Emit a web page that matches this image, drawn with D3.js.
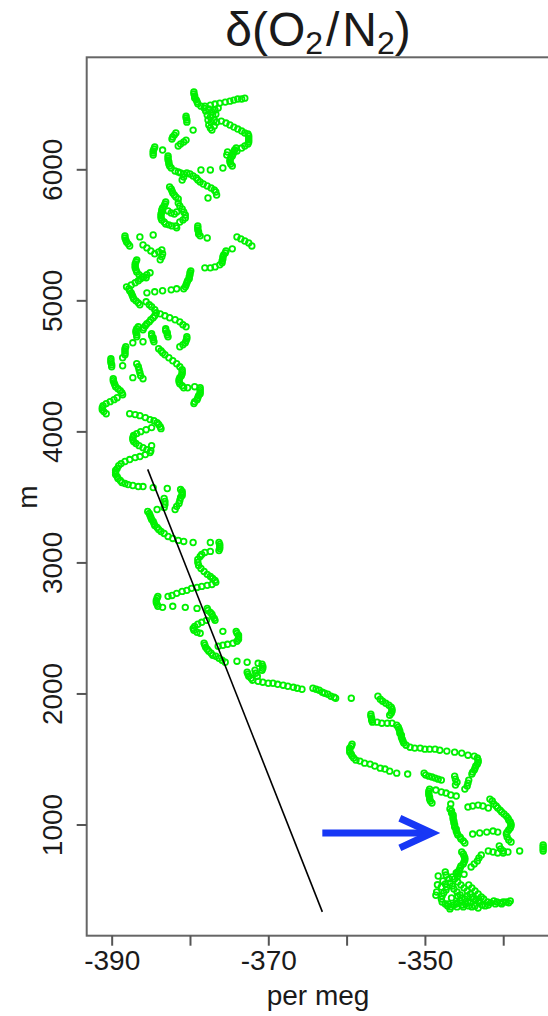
<!DOCTYPE html>
<html>
<head>
<meta charset="utf-8">
<script src="https://cdn.jsdelivr.net/npm/d3@7"></script>
<style>
  html, body { margin: 0; padding: 0; background: #ffffff; overflow: hidden; }
  svg text { font-family: "Liberation Sans", Arial, Helvetica, sans-serif; fill: #1a1a1a; }
</style>
</head>
<body>
<svg id="chart" width="548" height="1016"></svg>
<script>
// Axis ticks
const xTicks = [-390, -380, -370, -360, -350, -340];
const xLabelled = [-390, -370, -350];
const yTicks = [1000, 2000, 3000, 4000, 5000, 6000];

// Vertical profile of d(O2/N2) [per meg] against altitude [m]
const upperProfile = [
  [-379.5,6590],[-379.5,6575],[-379.4,6560],[-379.4,6545],[-379.2,6530],[-379.1,6515],[-379.0,6500],
  [-378.6,6482],[-378.1,6482],[-377.4,6490],[-376.8,6498],[-376.2,6505],[-375.5,6513],[-374.9,6520],[-374.4,6528],[-373.9,6536],[-373.4,6536],[-373.0,6543],
  [-378.2,6467],[-378.0,6444],[-377.6,6460],[-377.2,6437],[-376.8,6452],[-376.4,6467],[-377.8,6414],[-377.4,6399],[-377.1,6414],[-376.7,6421],
  [-377.7,6376],[-377.3,6360],[-376.9,6376],[-377.6,6338],[-377.4,6315],[-377.2,6299],[-376.9,6330],[-376.6,6360],
  [-376.0,6368],[-375.4,6353],[-374.9,6338],[-374.4,6322],[-373.9,6307],[-373.4,6292],[-373.0,6277],
  [-372.6,6269],[-372.5,6254],[-372.5,6238],[-372.5,6223],[-372.5,6208],[-372.6,6193],
  [-373.0,6178],[-373.4,6162],[-374.0,6140],
  [-374.1,6162],[-374.3,6147],[-374.4,6132],[-374.5,6117],[-374.6,6101],[-374.8,6086],[-374.9,6071],[-374.9,6056],[-374.8,6040],[-374.6,6025],[-375.2,6132],[-375.3,6109],
  [-375.8,6010],[-377.4,5995],[-378.6,5995],
  [-380.5,6406],[-380.5,6391],[-380.4,6376],[-380.4,6360],[-379.6,6299],
  [-381.8,6277],[-382.0,6261],[-382.2,6246],[-382.3,6231],
  [-383.5,6147],
  [-384.5,6170],[-384.6,6155],[-384.7,6140],[-384.7,6124],[-384.7,6109],
  [-381.5,6178],[-381.2,6193],[-380.8,6208],[-380.5,6223],
  [-382.8,6101],[-382.8,6086],[-382.8,6071],[-382.7,6056],[-382.7,6040],[-382.6,6025],[-382.4,6010],
  [-381.9,5987],[-381.5,5979],[-381.2,5972],[-380.8,5964],[-380.4,5972],[-380.0,5964],[-379.6,5949],[-379.2,5934],[-379.0,5918],[-378.7,5903],[-380.8,5941],[-381.0,5918],
  [-378.3,5888],[-377.8,5873],[-377.3,5857],[-376.9,5842],[-376.7,5827],[-376.6,5804],[-377.7,5781],
  [-382.6,5865],[-382.4,5850],[-382.3,5835],[-382.2,5819],[-382.0,5804],[-381.8,5789],[-381.5,5774],
  [-383.1,5751],[-383.2,5736],[-383.3,5720],[-383.5,5705],[-383.6,5690],[-383.6,5675],[-383.7,5659],[-383.7,5644],[-383.7,5629],[-383.6,5614],[-383.3,5598],[-383.1,5583],[-382.7,5576],[-382.3,5568],[-381.8,5568],
  [-381.5,5743],[-381.3,5720],[-381.0,5697],[-380.8,5675],[-380.6,5652],[-380.6,5629],[-380.9,5614],[-381.3,5598],[-381.7,5675],[-382.0,5659],[-382.4,5667],[-382.8,5682],
  [-381.7,5553],
  [-379.0,5568],[-379.0,5553],[-379.0,5537],[-378.9,5522],[-378.9,5507],[-378.7,5492],
  [-377.8,5476],
  [-388.3,5492],[-388.3,5476],[-388.2,5461],[-388.1,5446],[-387.9,5431],[-387.7,5415],
  [-386.4,5484],[-384.7,5499],
  [-386.0,5423],[-385.5,5400],[-385.0,5377],[-384.5,5355],[-384.0,5370],[-383.6,5385],[-383.5,5355],[-383.6,5332],[-383.8,5309],
  [-386.8,5309],[-386.9,5294],[-387.0,5278],[-387.0,5263],[-387.0,5248],[-386.9,5233],[-386.8,5217],[-386.5,5195],[-386.1,5179],[-385.6,5172],
  [-374.0,5484],[-373.5,5469],[-373.0,5453],[-372.5,5438],[-372.1,5415],[-374.6,5393],
  [-375.4,5377],[-375.5,5362],[-375.7,5347],[-375.8,5332],[-375.8,5316],[-375.9,5301],[-375.9,5286],[-376.2,5271],
  [-376.8,5255],[-377.4,5248],[-378.1,5248],
  [-379.9,5225],[-380.0,5210],[-380.0,5195],[-380.1,5179],[-380.1,5164],[-380.3,5149],[-380.4,5134],[-380.5,5118],[-380.6,5103],[-380.8,5088]
];

const middleProfile = [
  [-385.1,5210],[-385.5,5195],[-385.9,5179],[-386.3,5164],[-386.6,5149],[-387.0,5134],[-387.5,5118],[-388.1,5103],
  [-385.5,5057],[-384.5,5065],[-383.5,5073],[-382.4,5080],[-381.7,5088],
  [-387.8,5088],[-387.7,5073],[-387.5,5057],[-387.4,5042],[-387.3,5027],[-387.2,5012],[-386.9,4996],[-386.6,4981],[-386.4,4966],
  [-385.6,4989],[-385.2,4966],[-384.9,4951],[-384.5,4928],[-384.3,4905],[-384.5,4882],[-384.7,4867],[-385.0,4852],[-385.2,4836],[-385.5,4821],[-385.7,4806],[-385.9,4791],[-386.0,4775],
  [-383.8,4897],[-383.2,4882],[-382.6,4867],[-381.9,4852],[-381.3,4836],[-380.9,4814],[-380.5,4798],
  [-386.6,4798],[-386.8,4783],[-386.9,4768],[-386.9,4753],[-386.8,4737],[-386.8,4722],
  [-384.9,4745],[-384.9,4730],[-384.7,4714],[-384.7,4699],[-384.6,4684],
  [-386.0,4684],[-387.3,4676],
  [-383.1,4783],[-383.1,4768],[-382.9,4753],[-382.9,4737],[-382.8,4722],
  [-380.4,4722],[-380.4,4707],[-380.5,4692],[-380.6,4676],[-380.9,4661],[-381.3,4646],
  [-384.0,4631],[-383.7,4615],[-383.5,4600],[-383.2,4585],
  [-382.7,4562],[-382.2,4539],[-381.7,4516],[-381.3,4493],[-381.0,4470],
  [-381.0,4455],[-381.0,4440],[-381.1,4425],[-381.3,4410],[-381.4,4394],[-381.4,4379],[-381.3,4364],[-381.0,4349],[-380.8,4333],
  [-380.3,4333],[-379.4,4341],
  [-378.7,4333],[-378.7,4318],[-378.7,4303],[-378.7,4288],[-378.9,4273],[-379.0,4257],[-379.1,4242],[-379.4,4227],[-379.5,4212],
  [-388.2,4646],[-388.3,4631],[-388.3,4615],[-388.3,4600],[-388.3,4585],
  [-388.6,4562],[-388.6,4501],
  [-390.1,4554],[-390.1,4539],[-390.1,4524],[-390.0,4509],[-390.0,4493],
  [-386.8,4516],[-386.6,4493],[-386.5,4471],[-386.4,4448],[-386.3,4425],[-386.0,4402],
  [-387.3,4410],
  [-389.8,4402],[-389.8,4387],[-389.7,4372],[-389.6,4356],[-389.5,4341],[-389.2,4326],[-388.9,4311],[-388.7,4295],[-388.6,4280],
  [-389.3,4257],[-389.7,4242],[-390.2,4227],[-390.7,4212],[-391.1,4196],[-391.2,4181],[-391.2,4166],[-391.0,4151],[-390.7,4135],
  [-387.7,4135],[-387.0,4128],[-386.4,4120],[-385.7,4105],[-385.1,4090],[-384.6,4082],[-384.2,4067],[-384.0,4052],[-383.8,4036],[-383.7,4021],
  [-384.9,4029],
  [-385.6,4013],[-386.3,3998],[-386.8,3983],[-387.2,3968],[-387.3,3952],[-387.3,3937],[-387.2,3922],[-386.9,3907],[-386.5,3891],[-386.0,3876],[-385.5,3861],[-385.0,3853],
  [-384.9,3891],
  [-385.1,3838],[-385.7,3823],[-386.4,3808],[-387.0,3800],[-387.7,3785],[-388.3,3770],[-388.8,3754],[-389.1,3739],[-389.3,3716],[-389.5,3701],
  [-389.5,3686],[-389.5,3671],[-389.3,3655],[-389.2,3640],[-388.9,3625],[-388.7,3610],[-388.3,3602],[-387.9,3594],[-387.3,3587],[-386.6,3579],[-386.0,3579],
  [-384.7,3571],[-382.9,3564],
  [-381.2,3556],[-381.0,3541],[-381.0,3526],[-381.0,3511],[-381.2,3495],[-381.3,3472],[-381.4,3450],[-381.7,3427],[-381.9,3404],
  [-383.3,3488],[-383.2,3465],[-383.2,3442],[-383.3,3419],
  [-384.2,3404],
  [-385.4,3389],[-385.2,3373],[-385.1,3358],[-385.0,3343],[-384.9,3328],[-384.7,3312],[-384.6,3297],[-384.5,3282],[-384.2,3267],[-384.0,3251],[-383.7,3236],
  [-383.3,3221],[-382.8,3198],[-382.2,3183],[-381.5,3168],[-380.8,3160],
  [-379.6,3152],[-377.4,3152],[-377.4,3084],
  [-376.3,3152],[-376.2,3137],[-376.2,3122],[-376.2,3107],[-376.3,3091],
  [-378.1,3076],[-378.5,3061],[-378.7,3046],[-379.0,3023],[-379.0,3000],[-378.9,2977],[-378.6,2954],[-378.2,2931],[-377.8,2909],[-377.4,2893],[-377.1,2878],[-376.8,2863],[-376.7,2848],
  [-377.2,2832],[-377.8,2825],[-378.5,2817],[-379.1,2809],[-379.8,2802],[-380.4,2787],[-381.0,2779],[-381.7,2764],[-382.3,2748],[-382.8,2741],
  [-384.1,2741],[-384.2,2726],[-384.3,2710],[-384.3,2695],[-384.2,2680],[-384.1,2665],
  [-383.5,2657],[-382.2,2665],[-380.6,2657],[-379.1,2649],
  [-377.8,2649],[-377.7,2634],[-377.4,2619],[-377.2,2604],[-377.1,2588],[-376.9,2573],[-376.8,2558],
  [-377.9,2558],[-378.5,2543],[-379.0,2528],[-379.4,2512],[-379.6,2497],[-379.5,2482],[-379.1,2467],[-378.7,2459],
  [-375.8,2474],
  [-374.1,2474],[-374.0,2459],[-373.8,2444],[-373.8,2429],[-373.8,2413],[-374.0,2398],
  [-374.5,2383],[-375.2,2375],[-375.8,2368],[-376.4,2360]
];

const lowerProfile = [
  [-378.2,2383],[-378.1,2368],[-378.0,2352],[-377.8,2337],[-377.6,2322],[-377.3,2307],[-377.1,2291],[-376.7,2284],[-376.3,2268],[-375.9,2253],[-375.5,2238],
  [-374.0,2246],[-372.7,2238],[-371.3,2230],
  [-370.8,2223],[-370.7,2207],[-370.7,2192],[-370.8,2177],
  [-372.7,2162],[-372.6,2147],[-372.5,2131],[-372.2,2116],[-372.0,2101],
  [-371.7,2177],[-371.6,2154],[-371.4,2131],
  [-371.3,2093],[-370.7,2086],[-370.0,2078],[-369.4,2078],[-368.8,2070],[-368.1,2063],[-367.5,2055],[-366.8,2047],[-366.3,2040],[-365.7,2032],
  [-364.3,2040],[-363.9,2032],[-363.5,2025],[-363.1,2009],[-362.8,2002],[-362.4,1994],[-362.0,1979],[-361.6,1971],[-361.4,1964],
  [-359.4,1964],
  [-356.0,1979],[-355.7,1956],[-355.4,1941],[-355.0,1925],[-354.6,1910],[-354.3,1895],[-354.2,1880],[-354.2,1864],[-354.3,1849],[-354.5,1834],
  [-356.9,1842],[-356.9,1826],[-356.8,1811],[-356.8,1796],[-356.7,1781],
  [-356.1,1781],[-355.5,1773],[-354.8,1773],[-354.2,1773],
  [-353.6,1758],[-353.4,1743],[-353.3,1727],[-353.2,1712],[-353.2,1697],[-353.0,1682],[-353.0,1666],[-352.9,1651],[-352.8,1636],[-352.7,1621],[-352.4,1605],
  [-351.9,1590],[-351.3,1583],[-350.6,1583],[-350.0,1575],[-349.4,1575],[-348.7,1575],[-348.1,1567],[-347.2,1560],[-346.2,1552],[-345.3,1545],[-344.5,1529],[-343.7,1522],
  [-343.3,1507],[-343.2,1491],[-343.2,1476],[-343.3,1461],[-343.5,1446],[-343.6,1430],[-343.7,1415],[-343.9,1400],[-344.0,1385],
  [-359.3,1613],[-359.4,1598],[-359.6,1583],[-359.6,1567],[-359.6,1552],[-359.4,1537],[-359.3,1522],[-359.1,1507],[-358.8,1491],
  [-358.3,1484],[-357.7,1468],[-357.0,1461],[-356.4,1446],[-355.7,1430],[-355.1,1423],[-354.5,1407],[-353.6,1392],[-352.2,1385],
  [-350.1,1392],[-349.9,1377],[-349.5,1369],[-349.1,1362],[-348.7,1354],[-348.3,1346],[-347.9,1339],
  [-346.2,1369],[-346.1,1346],[-345.9,1323],[-346.1,1301],
  [-344.4,1339],[-344.5,1316],[-344.6,1293],[-344.9,1270],
  [-349.4,1270],[-349.5,1255],[-349.5,1240],[-349.5,1225],[-349.4,1209],[-349.4,1194],[-349.3,1179],[-349.1,1164],
  [-348.6,1263],[-347.9,1248],[-347.3,1240],[-346.7,1225],[-346.0,1217],
  [-346.7,1156],
  [-346.8,1118],[-346.6,1103],[-346.6,1087],[-346.4,1072],[-346.4,1057],[-346.4,1042],[-346.3,1026],[-346.3,1011],[-346.2,996],[-346.2,981],[-346.0,965],[-346.0,950],[-345.9,935],[-345.8,920],[-345.5,904],[-345.4,889],[-345.1,874],[-344.9,859],
  [-344.5,1133],[-343.9,1141],[-343.2,1148],[-342.6,1141],[-341.9,1126],
  [-341.7,1194],[-341.4,1179],[-341.2,1156],[-340.9,1141],[-340.7,1126],[-340.4,1110],[-340.2,1095],[-339.9,1080],[-339.6,1064],[-339.4,1049],[-339.3,1034],[-339.1,1019],[-339.0,1003],[-339.0,988],[-339.1,973],[-339.3,958],[-339.5,942],[-339.6,927],[-339.5,904],[-339.3,882],[-339.0,866],
  [-343.9,927],[-343.0,935],[-342.1,942],[-341.3,950],[-340.7,942],
  [-340.5,836],[-340.3,813],[-340.0,798],
  [-341.9,798],[-341.3,790],[-340.7,783],[-340.0,783],[-339.4,790],[-337.9,798],
  [-334.9,844],[-334.9,828],[-334.9,813],[-334.9,798],
  [-345.3,790],[-345.1,775],[-345.0,760],[-344.9,745],[-344.9,729],[-345.0,714],[-345.1,699],[-345.4,684],[-345.5,668],[-345.6,653],[-345.8,638],[-345.8,622],[-345.8,607],
  [-342.8,767],[-343.1,745],[-343.3,722],[-343.7,699],[-344.1,676],
  [-348.3,607],
  [-347.7,569],[-347.4,546],[-347.2,523],[-347.3,501],[-347.6,478],[-347.8,455],[-347.9,432],[-347.8,409],[-347.4,394],[-347.1,379],[-346.7,371],[-346.3,386],
  [-345.9,402],[-345.5,417],[-345.3,440],[-345.5,462],[-345.9,485],[-346.3,508],[-346.5,531],[-346.8,554],[-346.9,585],[-346.5,600],[-346.2,585],[-345.8,561],
  [-345.4,539],[-345.0,516],[-344.6,493],[-344.2,470],[-343.9,447],[-343.5,424],[-343.1,402],[-342.7,386],[-342.3,379],[-341.9,386],[-341.6,402],[-341.2,417],
  [-340.8,409],[-340.4,402],[-340.0,409],[-339.6,409],[-344.4,539],[-344.0,516],[-343.6,493],[-343.2,470],[-342.8,447],[-342.5,432],
  [-344.8,394],[-344.4,379],[-344.0,371],[-343.6,379],[-343.2,363],[-345.1,371],[-345.9,371],[-346.8,356],[-344.9,432],[-344.5,409],
  [-347.4,638],[-347.3,615],[-347.9,523],[-339.1,417],[-348.5,485],
  [-347.0,394],[-346.0,394],[-345.2,386],[-344.2,402],[-343.0,417],[-342.0,409],[-341.0,394],[-340.2,394],[-339.3,402],
  [-346.0,630],[-345.0,620],[-348.4,540],[-348.6,460],[-346.6,440],[-345.8,455],[-344.6,455],[-343.8,432]
];

// Overlay marks
const trendLine = [[-385.4, 3710], [-363.1, 333]];
const arrowShaft = [[-363.1, 935], [-349.1, 935]];
const arrowHead = [[-353.2, 1048], [-349.1, 935], [-353.2, 822]];

const svg = d3.select("#chart");
const plot = { left: 86.7, right: 552, top: 57.3, bottom: 935.7 };

const x = d3.scaleLinear().domain([-393.19, -333.77]).range([plot.left, plot.right]);
const y = d3.scaleLinear().domain([151.4, 6854.7]).range([plot.bottom, plot.top]);

// Points: open circles
const profile = upperProfile.concat(middleProfile, lowerProfile);
svg.append("g")
  .selectAll("circle")
  .data(profile)
  .join("circle")
  .attr("cx", d => x(d[0]))
  .attr("cy", d => y(d[1]))
  .attr("r", 2.8)
  .attr("fill", "none")
  .attr("stroke", "#00f000")
  .attr("stroke-width", 1.8);

const line = d3.line().x(d => x(d[0])).y(d => y(d[1]));

svg.append("path")
  .attr("d", line(trendLine))
  .attr("fill", "none")
  .attr("stroke", "#000")
  .attr("stroke-width", 1.6);

svg.append("path")
  .attr("d", line(arrowShaft))
  .attr("fill", "none")
  .attr("stroke", "#1737f5")
  .attr("stroke-width", 7);

svg.append("path")
  .attr("d", line(arrowHead))
  .attr("fill", "none")
  .attr("stroke", "#1737f5")
  .attr("stroke-width", 7)
  .attr("stroke-linejoin", "miter")
  .attr("stroke-linecap", "butt");

// Frame
svg.append("rect")
  .attr("x", plot.left).attr("y", plot.top)
  .attr("width", plot.right - plot.left).attr("height", plot.bottom - plot.top)
  .attr("fill", "none").attr("stroke", "#666").attr("stroke-width", 2);

// X axis
const xAxis = svg.append("g")
  .attr("transform", `translate(0,${plot.bottom})`)
  .call(d3.axisBottom(x).tickValues(xTicks).tickSize(10).tickPadding(6)
    .tickFormat(d => xLabelled.includes(d) ? String(d) : ""));
xAxis.select(".domain").remove();
xAxis.selectAll(".tick line").attr("stroke", "#555").attr("stroke-width", 2);
xAxis.selectAll(".tick text")
  .attr("font-size", 28).attr("dy", null).attr("y", 34)
  .attr("fill", "#1a1a1a");

// Y axis
const yAxis = svg.append("g")
  .attr("transform", `translate(${plot.left},0)`)
  .call(d3.axisLeft(y).tickValues(yTicks).tickSize(10).tickFormat(""));
yAxis.select(".domain").remove();
yAxis.selectAll(".tick line").attr("stroke", "#555").attr("stroke-width", 2);
yAxis.selectAll(".tick").append("text")
  .attr("transform", "translate(-25,0) rotate(-90)")
  .attr("text-anchor", "middle")
  .attr("font-size", 28)
  .attr("fill", "#1a1a1a")
  .text(d => String(d));

// Axis titles
svg.append("text")
  .attr("x", 318).attr("y", 1005)
  .attr("text-anchor", "middle").attr("font-size", 28)
  .text("per meg");

svg.append("text")
  .attr("transform", "translate(37,497) rotate(-90)")
  .attr("text-anchor", "middle").attr("font-size", 28)
  .text("m");

// Title: δ(O2/N2)
const title = svg.append("text")
  .attr("x", 318).attr("y", 46)
  .attr("text-anchor", "middle").attr("font-size", 48);
title.append("tspan").text("δ(O");
title.append("tspan").attr("font-size", 32).attr("dy", 8).text("2");
title.append("tspan").attr("dy", -8).attr("dx", 3).text("/");
title.append("tspan").attr("dx", 3).text("N");
title.append("tspan").attr("font-size", 32).attr("dy", 8).text("2");
title.append("tspan").attr("dy", -8).text(")");
</script>
</body>
</html>
